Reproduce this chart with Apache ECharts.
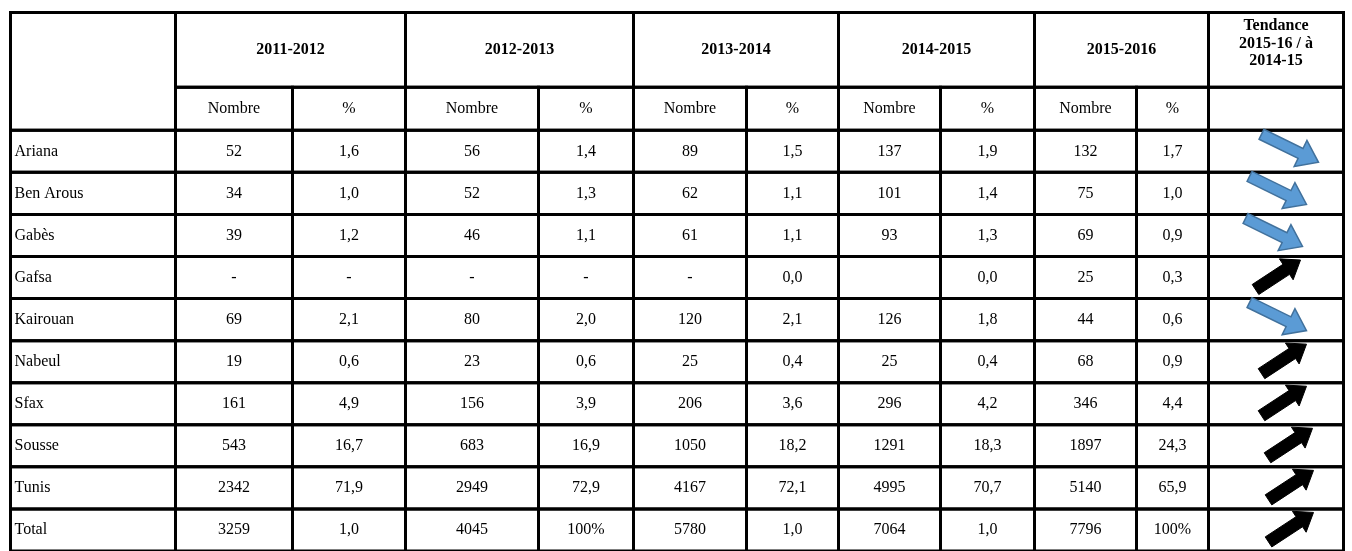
<!DOCTYPE html>
<html>
<head>
<meta charset="utf-8">
<script src="https://cdn.jsdelivr.net/npm/echarts@6/dist/echarts.min.js"></script>
<style>
  html, body { margin: 0; background: #fff; }
  #chart { width: 1352px; height: 551px; }
</style>
</head>
<body>
<div id="chart"></div>
<script>
// data
const years = ["2011-2012", "2012-2013", "2013-2014", "2014-2015", "2015-2016"]
const subHeads = ["Nombre", "%"]
const trendHead = "Tendance\n2015-16 / à\n2014-15"
const regions = ["Ariana", "Ben Arous", "Gabès", "Gafsa", "Kairouan", "Nabeul", "Sfax", "Sousse", "Tunis", "Total"]
const nb2011 = ["52", "34", "39", "-", "69", "19", "161", "543", "2342", "3259"]
const pc2011 = ["1,6", "1,0", "1,2", "-", "2,1", "0,6", "4,9", "16,7", "71,9", "1,0"]
const nb2012 = ["56", "52", "46", "-", "80", "23", "156", "683", "2949", "4045"]
const pc2012 = ["1,4", "1,3", "1,1", "-", "2,0", "0,6", "3,9", "16,9", "72,9", "100%"]
const nb2013 = ["89", "62", "61", "-", "120", "25", "206", "1050", "4167", "5780"]
const pc2013 = ["1,5", "1,1", "1,1", "0,0", "2,1", "0,4", "3,6", "18,2", "72,1", "1,0"]
const nb2014 = ["137", "101", "93", "", "126", "25", "296", "1291", "4995", "7064"]
const pc2014 = ["1,9", "1,4", "1,3", "0,0", "1,8", "0,4", "4,2", "18,3", "70,7", "1,0"]
const nb2015 = ["132", "75", "69", "25", "44", "68", "346", "1897", "5140", "7796"]
const pc2015 = ["1,7", "1,0", "0,9", "0,3", "0,6", "0,9", "4,4", "24,3", "65,9", "100%"]
const trend = ["down", "down", "down", "up", "down", "up", "up", "up", "up", "up"]

// layout
const colWidths = [165, 117, 113, 133, 95, 113, 92, 102, 94, 102, 72, 135]
const rowHeights = [75.5, 43.5].concat(regions.map(() => 42.5))
const arrowShiftX = [12, 0, -4, -6, 0, 0, 0, 6, 7, 7]
const cumX = [0]
colWidths.forEach(w => cumX.push(cumX[cumX.length - 1] + w))
const cumY = [0]
rowHeights.forEach(h => cumY.push(cumY[cumY.length - 1] + h))
const font = "\"Liberation Serif\", \"Times New Roman\", serif"

const numbers = [nb2011, nb2012, nb2013, nb2014, nb2015]
const percents = [pc2011, pc2012, pc2013, pc2014, pc2015]

const cells = []
cells.push({col: 0, cs: 1, row: 0, rs: 2, text: ""})
years.forEach((y, i) => {
  cells.push({col: 1 + 2 * i, cs: 2, row: 0, rs: 1, text: y, bold: true})
  subHeads.forEach((s, j) => cells.push({col: 1 + 2 * i + j, cs: 1, row: 1, rs: 1, text: s}))
})
cells.push({col: 11, cs: 1, row: 0, rs: 1, text: trendHead, bold: true, top: true})
cells.push({col: 11, cs: 1, row: 1, rs: 1, text: ""})
regions.forEach((name, r) => {
  cells.push({col: 0, cs: 1, row: r + 2, rs: 1, text: name, left: true})
  years.forEach((y, i) => {
    cells.push({col: 1 + 2 * i, cs: 1, row: r + 2, rs: 1, text: numbers[i][r]})
    cells.push({col: 2 + 2 * i, cs: 1, row: r + 2, rs: 1, text: percents[i][r]})
  })
  cells.push({col: 11, cs: 1, row: r + 2, rs: 1, text: ""})
})

const arrowStyle = {
  down: {tail: [41, 4], tip: [98, 32], shaft: 11, head: 29, headLen: 20, fill: "#5b9bd5", stroke: "#41719c", lw: 1.5},
  up: {tail: [53, 33], tip: [98, 3.5], shaft: 12, head: 25, headLen: 17, fill: "#000", stroke: "#000", lw: 1}
}

function renderCell(params, api) {
  const c = cells[params.dataIndex]
  const p0 = api.coord([cumX[c.col], cumY[c.row]])
  const p1 = api.coord([cumX[c.col + c.cs], cumY[c.row + c.rs]])
  const x = p0[0], y = p0[1], w = p1[0] - p0[0], h = p1[1] - p0[1]
  const children = [{
    type: "rect",
    shape: {x: x, y: y, width: w, height: h},
    style: {fill: null, stroke: "#000", lineWidth: 3}
  }]
  if (c.text) {
    children.push({
      type: "text",
      style: {
        text: c.text,
        x: c.left ? x + 4 : x + w / 2,
        y: c.top ? y + 5 : y + h / 2,
        align: c.left ? "left" : "center",
        verticalAlign: c.top ? "top" : "middle",
        fontSize: 16,
        fontWeight: c.bold ? "bold" : "normal",
        fontFamily: font,
        lineHeight: 17.5,
        fill: "#000"
      }
    })
  }
  return {type: "group", children: children}
}

function renderArrow(params, api) {
  const r = params.dataIndex
  const g = arrowStyle[trend[r]]
  const base = api.coord([cumX[11], cumY[r + 2]])
  base[0] += arrowShiftX[r]
  const t = [base[0] + g.tail[0], base[1] + g.tail[1]]
  const p = [base[0] + g.tip[0], base[1] + g.tip[1]]
  const len = Math.hypot(p[0] - t[0], p[1] - t[1])
  const u = [(p[0] - t[0]) / len, (p[1] - t[1]) / len]
  const n = [-u[1], u[0]]
  const b = [p[0] - u[0] * g.headLen, p[1] - u[1] * g.headLen]
  const off = (pt, k) => [pt[0] + n[0] * k, pt[1] + n[1] * k]
  const points = [
    off(t, g.shaft / 2), off(b, g.shaft / 2), off(b, g.head / 2), p,
    off(b, -g.head / 2), off(b, -g.shaft / 2), off(t, -g.shaft / 2)
  ]
  return {
    type: "polygon",
    shape: {points: points},
    style: {fill: g.fill, stroke: g.stroke, lineWidth: g.lw, lineJoin: "miter"}
  }
}

const chart = echarts.init(document.getElementById("chart"))
chart.setOption({
  animation: false,
  backgroundColor: "#fff",
  grid: {left: 10.5, top: 12.5, width: cumX[cumX.length - 1], height: cumY[cumY.length - 1]},
  xAxis: {type: "value", min: 0, max: cumX[cumX.length - 1], show: false},
  yAxis: {type: "value", min: 0, max: cumY[cumY.length - 1], inverse: true, show: false},
  series: [
    {
      type: "custom",
      renderItem: renderCell,
      data: cells.map(c => [cumX[c.col], cumY[c.row]]),
      silent: true,
      z: 1
    },
    {
      type: "custom",
      renderItem: renderArrow,
      data: trend.map((t, r) => [cumX[11], cumY[r + 2]]),
      silent: true,
      z: 2
    }
  ]
})
</script>
</body>
</html>
